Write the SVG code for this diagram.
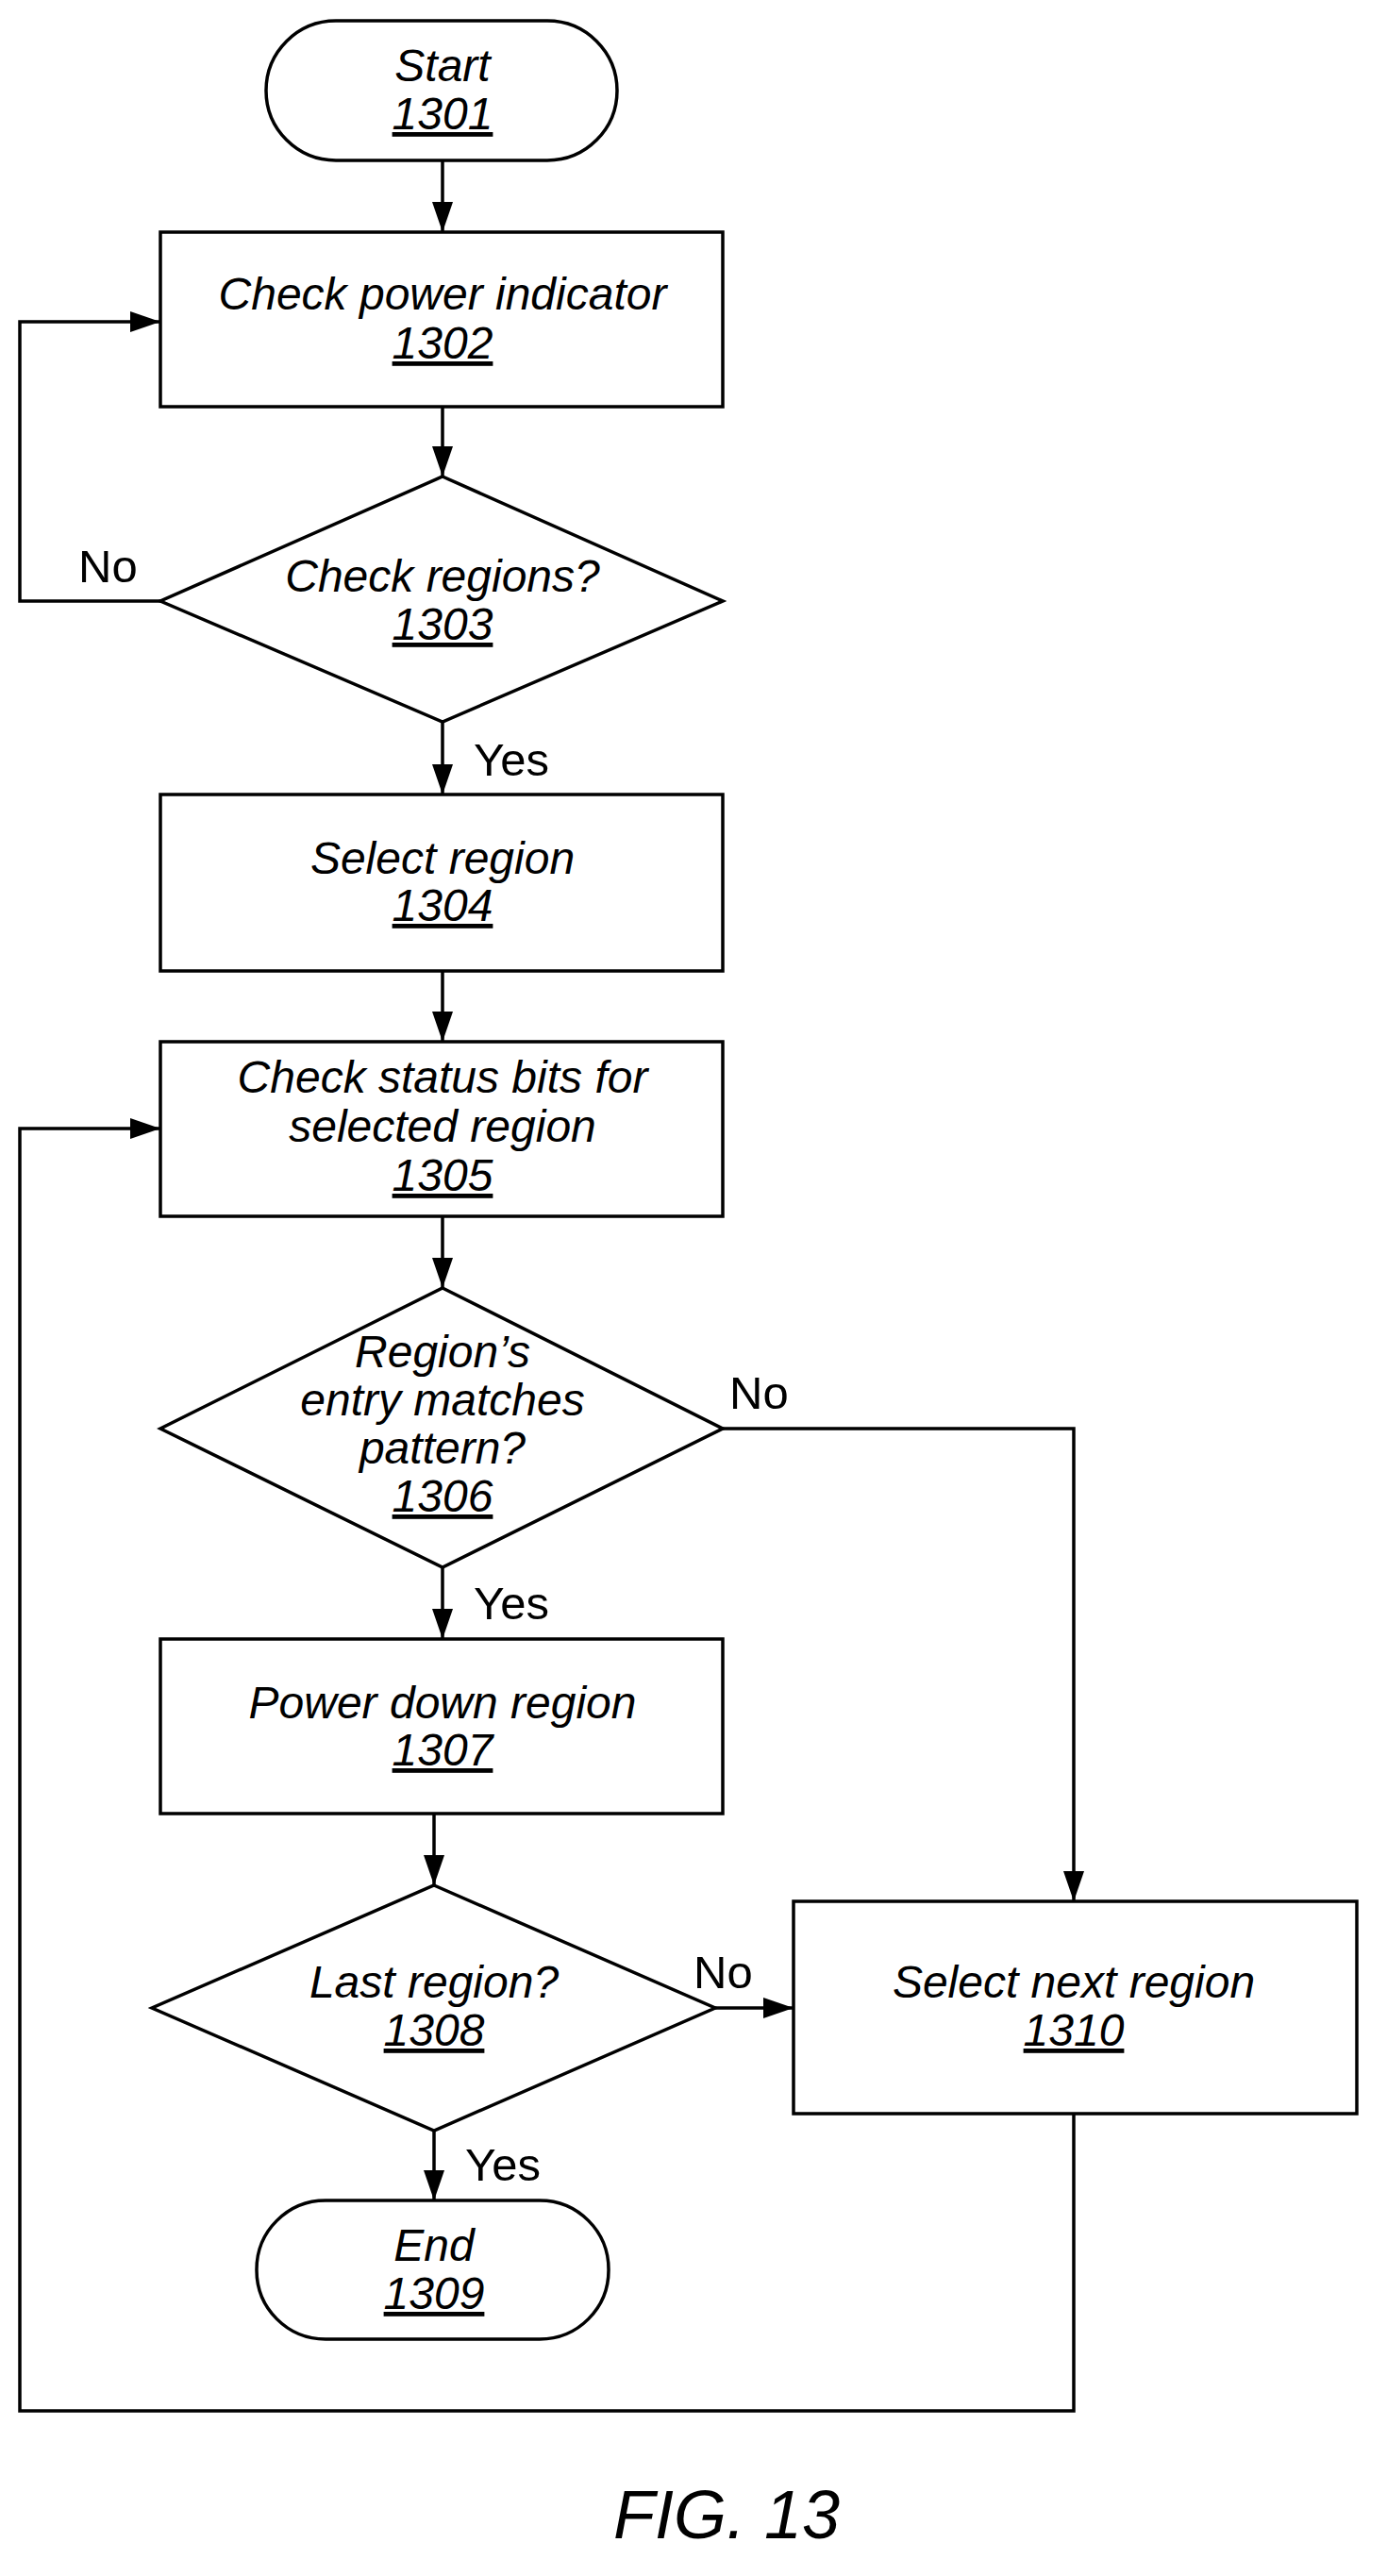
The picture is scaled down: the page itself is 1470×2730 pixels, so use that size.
<svg xmlns="http://www.w3.org/2000/svg" width="1470" height="2730" viewBox="0 0 1470 2730">
<defs>
<style>
.s{fill:#fff;stroke:#000;stroke-width:3.5}
.t{font-family:"Liberation Sans",Arial,sans-serif;font-style:italic;font-size:48px;text-anchor:middle}
.u{text-decoration:underline}
.l{font-family:"Liberation Sans",Arial,sans-serif;font-size:49px}
.c{fill:none;stroke:#000;stroke-width:3.5}
</style>
<marker id="a" markerWidth="34" markerHeight="30" refX="32" refY="15" orient="auto" markerUnits="userSpaceOnUse"><path d="M0,4 L32,15 L0,26 z" fill="#000"/></marker>
</defs>
<rect width="1470" height="2730" fill="#fff"/>
<g id="connectors">
<path class="c" d="M469,170 V246" marker-end="url(#a)"/>
<path class="c" d="M469,431 V505" marker-end="url(#a)"/>
<path class="c" d="M170,637 H21 V341 H170" marker-end="url(#a)"/>
<path class="c" d="M469,765 V842" marker-end="url(#a)"/>
<path class="c" d="M469,1029 V1104" marker-end="url(#a)"/>
<path class="c" d="M469,1289 V1365" marker-end="url(#a)"/>
<path class="c" d="M469,1661 V1737" marker-end="url(#a)"/>
<path class="c" d="M766,1514 H1138 V2015" marker-end="url(#a)"/>
<path class="c" d="M460,1922 V1998" marker-end="url(#a)"/>
<path class="c" d="M758,2128 H841" marker-end="url(#a)"/>
<path class="c" d="M460,2258 V2332" marker-end="url(#a)"/>
<path class="c" d="M1138,2240 V2555 H21 V1196 H170" marker-end="url(#a)"/>
<text class="l" x="83" y="617">No</text>
<text class="l" x="502" y="822">Yes</text>
<text class="l" x="773" y="1493">No</text>
<text class="l" x="502" y="1716">Yes</text>
<text class="l" x="735" y="2107">No</text>
<text class="l" x="493" y="2311">Yes</text>
</g>
<g id="n1301"><rect class="s" x="282" y="22" width="372" height="148" rx="74"/><text class="t" x="469" y="86">Start</text><text class="t u" x="469" y="137">1301</text></g>
<g id="n1302"><rect class="s" x="170" y="246" width="596" height="185"/><text class="t" x="469" y="328">Check power indicator</text><text class="t u" x="469" y="380">1302</text></g>
<g id="n1303"><polygon class="s" points="469,505 766,637 469,765 170,637"/><text class="t" x="469" y="627">Check regions?</text><text class="t u" x="469" y="678">1303</text></g>
<g id="n1304"><rect class="s" x="170" y="842" width="596" height="187"/><text class="t" x="469" y="926">Select region</text><text class="t u" x="469" y="976">1304</text></g>
<g id="n1305"><rect class="s" x="170" y="1104" width="596" height="185"/><text class="t" x="469" y="1158">Check status bits for</text><text class="t" x="469" y="1210">selected region</text><text class="t u" x="469" y="1262">1305</text></g>
<g id="n1306"><polygon class="s" points="469,1365 766,1514 469,1661 170,1514"/><text class="t" x="469" y="1449">Region’s</text><text class="t" x="469" y="1500">entry matches</text><text class="t" x="469" y="1551">pattern?</text><text class="t u" x="469" y="1602">1306</text></g>
<g id="n1307"><rect class="s" x="170" y="1737" width="596" height="185"/><text class="t" x="469" y="1821">Power down region</text><text class="t u" x="469" y="1871">1307</text></g>
<g id="n1308"><polygon class="s" points="460,1998 758,2128 460,2258 161,2128"/><text class="t" x="460" y="2117">Last region?</text><text class="t u" x="460" y="2168">1308</text></g>
<g id="n1310"><rect class="s" x="841" y="2015" width="597" height="225"/><text class="t" x="1138" y="2117">Select next region</text><text class="t u" x="1138" y="2168">1310</text></g>
<g id="n1309"><rect class="s" x="272" y="2332" width="373" height="147" rx="73"/><text class="t" x="460" y="2396">End</text><text class="t u" x="460" y="2447">1309</text></g>
<text class="t" x="770" y="2690" style="font-size:72px">FIG. 13</text>
</svg>
